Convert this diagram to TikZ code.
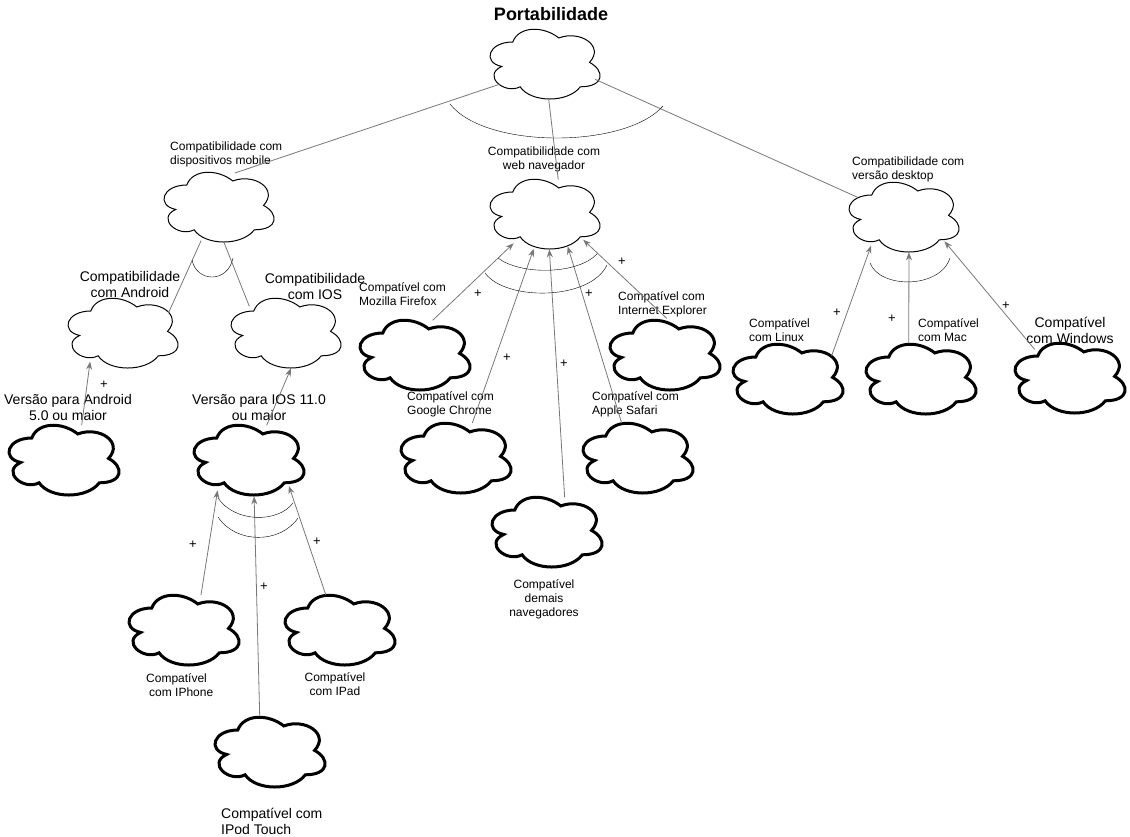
\documentclass[tikz,border=0pt]{standalone}
\usepackage{fontspec}
\setmainfont{Liberation Sans}
\usepackage{tikz}
\usetikzlibrary{shapes, arrows.meta}
\definecolor{linegray}{RGB}{120,120,120}

% cloud outline of a soft goal, borders taken from the ellipse
\makeatletter
\newdimen\sgcx \newdimen\sgcy \newdimen\sgrx \newdimen\sgry
\def\sgpt#1#2{\pgfqpoint{\dimexpr\sgcx+#1\sgrx-0.025\sgrx\relax}{\dimexpr\sgcy+#2\sgry+0.04\sgry\relax}}
\pgfdeclareshape{softgoal}{%
  \inheritsavedanchors[from=ellipse]%
  \inheritanchorborder[from=ellipse]%
  \inheritanchor[from=ellipse]{center}%
  \inheritanchor[from=ellipse]{north}%
  \inheritanchor[from=ellipse]{south}%
  \inheritanchor[from=ellipse]{east}%
  \inheritanchor[from=ellipse]{west}%
  \backgroundpath{%
    \pgf@process{\centerpoint}\sgcx=\pgf@x \sgcy=\pgf@y
    \pgf@process{\radius}\sgrx=\pgf@x \sgry=\pgf@y
    \pgfmathsetlength\pgf@xb{\pgfkeysvalueof{/pgf/outer xsep}}%
    \pgfmathsetlength\pgf@yb{\pgfkeysvalueof{/pgf/outer ysep}}%
    \advance\sgrx by-\pgf@xb \advance\sgry by-\pgf@yb
    \sgrx=1.117\sgrx \sgry=1.163\sgry
    \pgfpathmoveto{\sgpt{-0.5}{0.5}}%
    \pgfpathcurveto{\sgpt{-0.9}{0.5}}{\sgpt{-1}{0}}{\sgpt{-0.68}{-0.1}}%
    \pgfpathcurveto{\sgpt{-1}{-0.32}}{\sgpt{-0.64}{-0.8}}{\sgpt{-0.38}{-0.6}}%
    \pgfpathcurveto{\sgpt{-0.2}{-1}}{\sgpt{0.4}{-1}}{\sgpt{0.6}{-0.6}}%
    \pgfpathcurveto{\sgpt{1}{-0.6}}{\sgpt{1}{-0.2}}{\sgpt{0.75}{0}}%
    \pgfpathcurveto{\sgpt{1}{0.4}}{\sgpt{0.6}{0.8}}{\sgpt{0.25}{0.6}}%
    \pgfpathcurveto{\sgpt{0}{0.9}}{\sgpt{-0.4}{0.9}}{\sgpt{-0.5}{0.5}}%
    \pgfpathclose
  }%
}
\makeatother

\begin{document}
\begin{tikzpicture}[x=1pt,y=-1pt,
  goal/.style={shape=softgoal,draw,minimum width=110pt,minimum height=70pt,inner sep=0pt,line width=1pt},
  leaf/.style={goal,line width=3pt},
  small/.style={font=\fontsize{12}{14}\selectfont,inner sep=0pt},
  big/.style={font=\fontsize{14}{16}\selectfont,inner sep=0pt},
  link/.style={draw=linegray,line width=0.8pt},
  contrib/.style={link,-{Stealth[length=8pt,width=6pt]}},
  plus/.style={font=\fontsize{13}{14}\selectfont,inner sep=0pt}
]
\useasboundingbox (0,0) rectangle (1130,836);

% top goal
\node[font=\bfseries\fontsize{18}{20}\selectfont,inner sep=0pt] (title) at (551,14) {Portabilidade};
\node[goal] (port) at (545,64) {};

% first level
\node[goal] (mobile) at (219,207) {};
\node[goal] (web) at (545,214) {};
\node[goal] (desk) at (904,217) {};
\node[small,anchor=west,align=left] (lmobile) at (170,154) {Compatibilidade com\\dispositivos mobile};
\node[small,align=center] (lweb) at (544,159) {Compatibilidade com\\web navegador};
\node[small,anchor=west,align=left] (ldesk) at (852,169) {Compatibilidade com\\versão desktop};

\draw[link] (port.204) -- (mobile.65);
\draw[link] (port.276) -- (web.69);
\draw[link] (port.343) -- (desk.157);
\draw (450,104) .. controls (485,149) and (625,149) .. (663,106);

% mobile
\node[goal] (android) at (123,333) {};
\node[goal] (ios) at (286,333) {};
\node[big,align=center] (landroid) at (130,284) {Compatibilidade\\com Android};
\node[big,align=center] (lios) at (315,286) {Compatibilidade\\com IOS};
\draw[link] (mobile.242) -- (android.24);
\draw[link] (mobile.278) -- (ios.144);
\draw (192,260) .. controls (197,283) and (228,283) .. (233,258);

\node[leaf] (android5) at (64,460) {};
\node[leaf] (ios11) at (249,460) {};
\node[big,align=center] (landroid5) at (68,407) {Versão para Android\\5.0 ou maior};
\node[big,align=center] (lios11) at (259,408) {Versão para IOS 11.0\\ou maior};
\draw[contrib] (android5.63) -- (android.221);
\draw[contrib] (ios11.63) -- (ios.278);
\node[plus] (p1) at (104,385) {+};

% ios devices
\node[leaf] (iphone) at (184,630) {};
\node[leaf] (ipad) at (340,630) {};
\node[leaf] (ipod) at (270,752) {};
\node[small,anchor=west,align=left] (liphone) at (146,685) {Compatível\\\hspace*{3pt}com IPhone};
\node[small,align=center] (lipad) at (335,684) {Compatível\\com IPad};
\node[big,anchor=west,align=left] (lipod) at (221,821) {Compatível com\\IPod Touch};
\draw[contrib] (iphone.64) -- (ios11.224);
\draw[contrib] (ipod.106) -- (ios11.278);
\draw[contrib] (ipad.112) -- (ios11.327);
\draw (218,498) .. controls (235,523) and (278,523) .. (293,503);
\draw (218,517) .. controls (236,544) and (280,544) .. (298,518);
\node[plus] (p2) at (193,545) {+};
\node[plus] (p3) at (264,587) {+};
\node[plus] (p4) at (317,542) {+};

% browsers
\node[leaf] (firefox) at (415,355) {};
\node[leaf] (chrome) at (456,458) {};
\node[leaf] (others) at (547,532) {};
\node[leaf] (safari) at (638,458) {};
\node[leaf] (ie) at (665,355) {};
\node[small,anchor=west,align=left] (lfirefox) at (359,294) {Compatível com\\Mozilla Firefox};
\node[small,anchor=west,align=left] (lchrome) at (407,404) {Compatível com\\Google Chrome};
\node[small,align=center] (lothers) at (544,599) {Compatível\\demais\\navegadores};
\node[small,anchor=west,align=left] (lsafari) at (592,404) {Compatível com\\Apple Safari};
\node[small,anchor=west,align=left] (lie) at (618,304) {Compatível com\\Internet Explorer};
\draw[contrib] (firefox.63) -- (web.223);
\draw[contrib] (chrome.65) -- (web.252);
\draw[contrib] (others.63) -- (web.277);
\draw[contrib] (safari.115) -- (web.305);
\draw[contrib] (ie.87) -- (web.326);
\draw (498,258) .. controls (520,275) and (577,275) .. (597,254);
\draw (485,273) .. controls (505,301) and (590,301) .. (607,265);
\node[plus] (p5) at (478,294) {+};
\node[plus] (p6) at (507,358) {+};
\node[plus] (p7) at (564,364) {+};
\node[plus] (p8) at (589,294) {+};
\node[plus] (p9) at (622,262) {+};

% desktop
\node[leaf] (linux) at (788,379) {};
\node[leaf] (mac) at (921,379) {};
\node[leaf] (windows) at (1070,378) {};
\node[small,anchor=west,align=left] (llinux) at (749,330) {Compatível\\com Linux};
\node[small,anchor=west,align=left] (lmac) at (918,330) {Compatível\\com Mac};
\node[big,align=center] (lwindows) at (1070,330) {Compatível\\com Windows};
\draw[contrib] (linux.28) -- (desk.221);
\draw[contrib] (mac.109) -- (desk.278);
\draw[contrib] (windows.141) -- (desk.329);
\draw (870,263) .. controls (880,289) and (940,289) .. (950,258);
\node[plus] (p10) at (837,313) {+};
\node[plus] (p11) at (892,319) {+};
\node[plus] (p12) at (1006,306) {+};

\end{tikzpicture}
\end{document}
